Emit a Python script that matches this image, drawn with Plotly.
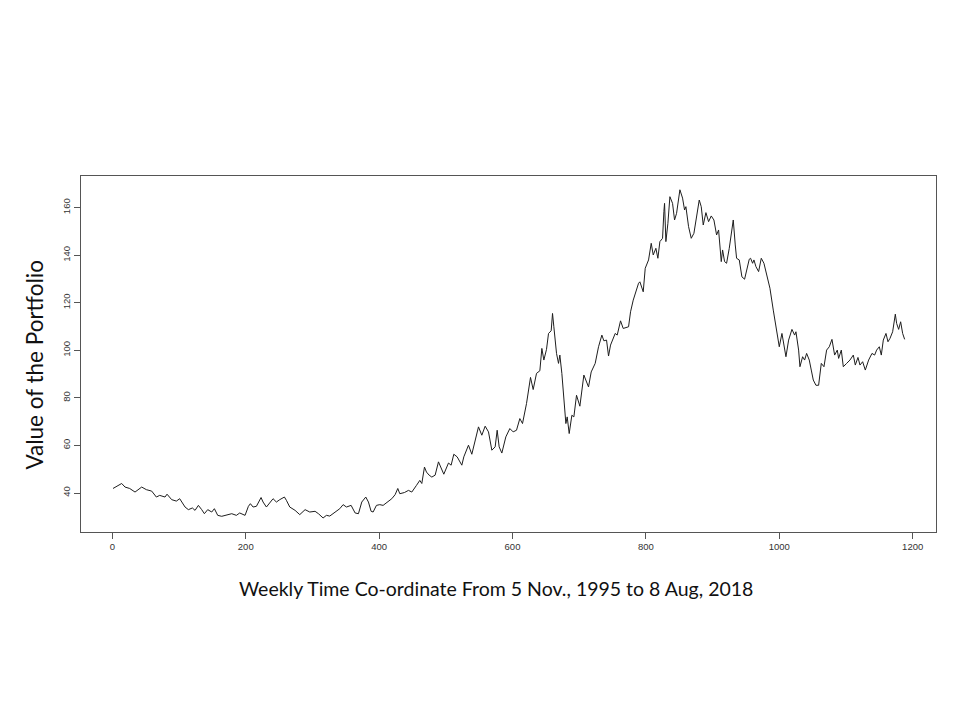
import plotly.graph_objects as go

# weekly index and portfolio value
weeks = [
    1, 6, 14, 19, 26, 34, 44, 51, 59, 66, 71, 79, 82, 89, 96, 101, 109, 114,
    120, 124, 129, 134, 138, 143, 149, 153, 158, 164, 171, 179, 186, 191, 199,
    204, 207, 211, 216, 223, 226, 231,
    241, 246, 251, 258, 261, 266, 274, 281, 289, 296, 304, 309, 316, 321, 326,
    334, 341, 346, 351, 358, 364, 369, 374, 380, 384, 388, 391, 396, 401, 406,
    411, 419, 424, 428, 431, 438, 444, 449, 456, 461, 464, 468, 471, 475,
    479, 484, 489, 492, 497, 504, 508, 512, 517, 524, 527, 534, 539, 549, 554,
    559, 564, 569, 574, 577, 580, 584, 590, 596, 601, 606, 611, 615, 621, 627,
    631, 636, 641, 644, 647, 651, 654, 658, 660, 662, 666, 669, 671, 674, 676,
    680, 682, 685, 689, 692, 696, 701, 707, 714, 718, 724, 729, 734, 737, 741,
    744, 747, 754, 757, 762, 766, 774, 777, 781,
    784, 789, 791, 796, 799, 804, 808, 811, 815, 818, 821, 825, 827, 828, 830,
    833, 836, 840, 843, 846, 851, 855, 858, 860, 864, 868, 872, 876, 880, 883,
    886, 890, 894, 898, 902, 906, 909, 913, 915, 918, 921, 925, 928, 931, 934,
    936, 940, 944, 948, 951, 955,
    957, 960, 962, 965, 969, 973, 977, 981, 986, 991, 996, 1000, 1004, 1006,
    1010, 1014, 1019, 1023, 1025, 1029, 1031, 1035, 1038, 1041, 1045, 1048,
    1051, 1055, 1059, 1063, 1067, 1071, 1075, 1079, 1083, 1087, 1089, 1093,
    1096, 1101, 1106, 1111, 1114, 1118, 1121, 1125, 1129, 1134, 1139, 1143,
    1146, 1150, 1153, 1156, 1160, 1163, 1166, 1170, 1174, 1176, 1179, 1182,
    1185, 1188,
]
values = [
    41.9, 42.8, 44.0, 42.5, 41.9, 40.4, 42.5, 41.4, 40.8, 38.3, 39.0, 38.3,
    39.5, 37.2, 36.6, 37.6, 34.1, 33.0, 33.7, 32.7, 34.8, 33.0, 31.3, 33.0,
    32.0, 33.4, 30.6, 30.2, 30.6, 31.3, 30.6, 31.6, 30.6, 34.4, 35.5, 34.1,
    34.4, 38.1, 36.2, 34.1,
    37.6, 36.2, 37.2, 38.3, 36.9, 34.1, 32.7, 30.9, 33.0, 32.0, 32.3, 31.3,
    29.5, 30.6, 30.3, 32.0, 33.4, 35.1, 34.1, 34.8, 31.6, 31.3, 36.2, 38.3,
    36.2, 32.3, 32.0, 34.8, 35.1, 34.8, 36.0, 37.6, 39.3, 41.9, 39.7, 40.2,
    41.1, 40.4, 43.2, 45.3, 44.0, 50.9, 48.8, 47.5,
    46.7, 47.5, 53.1, 50.9, 47.9, 52.6, 51.7, 56.3, 55.2, 51.7, 55.2, 60.1,
    56.3, 67.8, 64.3, 68.1, 65.7, 58.0, 59.4, 66.4, 59.4, 56.8, 63.6, 67.1,
    65.7, 66.4, 71.3, 69.2, 77.6, 88.6, 83.5, 90.3, 91.4, 100.8, 95.9, 100.4,
    107.1, 108.2, 115.5, 109.9, 98.7, 94.5, 98.0, 90.3, 81.9, 69.2, 72.0,
    65.0, 72.7, 72.0, 81.1, 76.5, 89.6, 84.6, 90.9, 94.5, 101.5, 106.4, 104.0,
    104.3, 97.6, 102.2, 107.1, 106.4, 112.4, 109.2, 109.9, 116.2, 121.1,
    124.0, 128.2, 128.8, 124.6, 134.5, 138.0, 145.0, 140.1, 142.9, 138.7,
    145.7, 147.1, 158.3, 161.8, 145.7, 153.4, 164.6, 161.8, 154.8, 157.6,
    167.5, 164.0, 159.0, 160.4, 152.0, 147.1, 149.2, 155.5, 163.2, 160.4,
    152.7, 157.9, 154.1, 156.5, 154.8, 148.5, 150.6, 137.3, 142.2, 137.3,
    136.6, 142.9, 149.2, 154.8, 144.3, 138.7, 138.0, 130.9, 129.9, 133.1, 138.3,
    138.7, 136.6, 138.0, 135.2, 133.1, 138.7, 136.6, 132.4, 126.1, 116.9,
    107.8, 101.5, 107.1, 104.3, 97.3, 104.3, 108.8, 106.4, 107.8, 100.1, 93.1,
    97.3, 95.9, 98.7, 95.9, 91.7, 87.5, 85.3, 85.3, 94.5, 93.1, 100.1, 101.5,
    104.6, 98.0, 100.1, 96.6, 100.1, 93.1, 94.5, 95.9, 98.0, 93.8, 97.0, 93.8,
    95.2, 91.7, 95.9, 98.7, 98.0, 100.1, 101.5, 98.0, 104.3, 107.1, 103.6,
    105.0, 107.8, 115.2, 111.3, 108.8, 112.0, 107.1, 104.6,
]

x_ticks = [0, 200, 400, 600, 800, 1000, 1200]
y_ticks = [40, 60, 80, 100, 120, 140, 160]

fig = go.Figure()
fig.add_trace(go.Scatter(
    x=weeks, y=values, mode='lines',
    line=dict(color='#1e1e1e', width=1),
    showlegend=False,
))

axis_common = dict(
    showgrid=False, zeroline=False,
    showline=True, linecolor='#555555', linewidth=1, mirror=True,
    ticks='outside', ticklen=6, tickcolor='#555555',
    tickfont=dict(family='Liberation Sans, Arial', size=9.5, color='#333333'),
)

# the page body adds an 8px offset, so margins are trimmed to match the frame
fig.update_layout(
    width=960, height=720,
    paper_bgcolor='white', plot_bgcolor='white',
    margin=dict(l=73, r=32, t=168, b=196),
    xaxis=dict(range=[-47, 1235], tickvals=x_ticks, **axis_common),
    yaxis=dict(range=[23.6, 173.3], tickvals=y_ticks, tickangle=-90, **axis_common),
    annotations=[
        dict(text='Weekly Time Co-ordinate From 5 Nov., 1995 to 8 Aug, 2018',
             xref='paper', yref='paper', x=0.485, y=-0.158,
             xanchor='center', yanchor='middle', showarrow=False,
             font=dict(family='Lato, Open Sans', size=19.5, color='#111111')),
        dict(text='Value of the Portfolio',
             xref='paper', yref='paper', x=-0.054, y=0.47,
             xanchor='center', yanchor='middle', showarrow=False, textangle=-90,
             font=dict(family='Lato, Open Sans', size=22.5, color='#111111')),
    ],
)

fig.write_html("out.html")
